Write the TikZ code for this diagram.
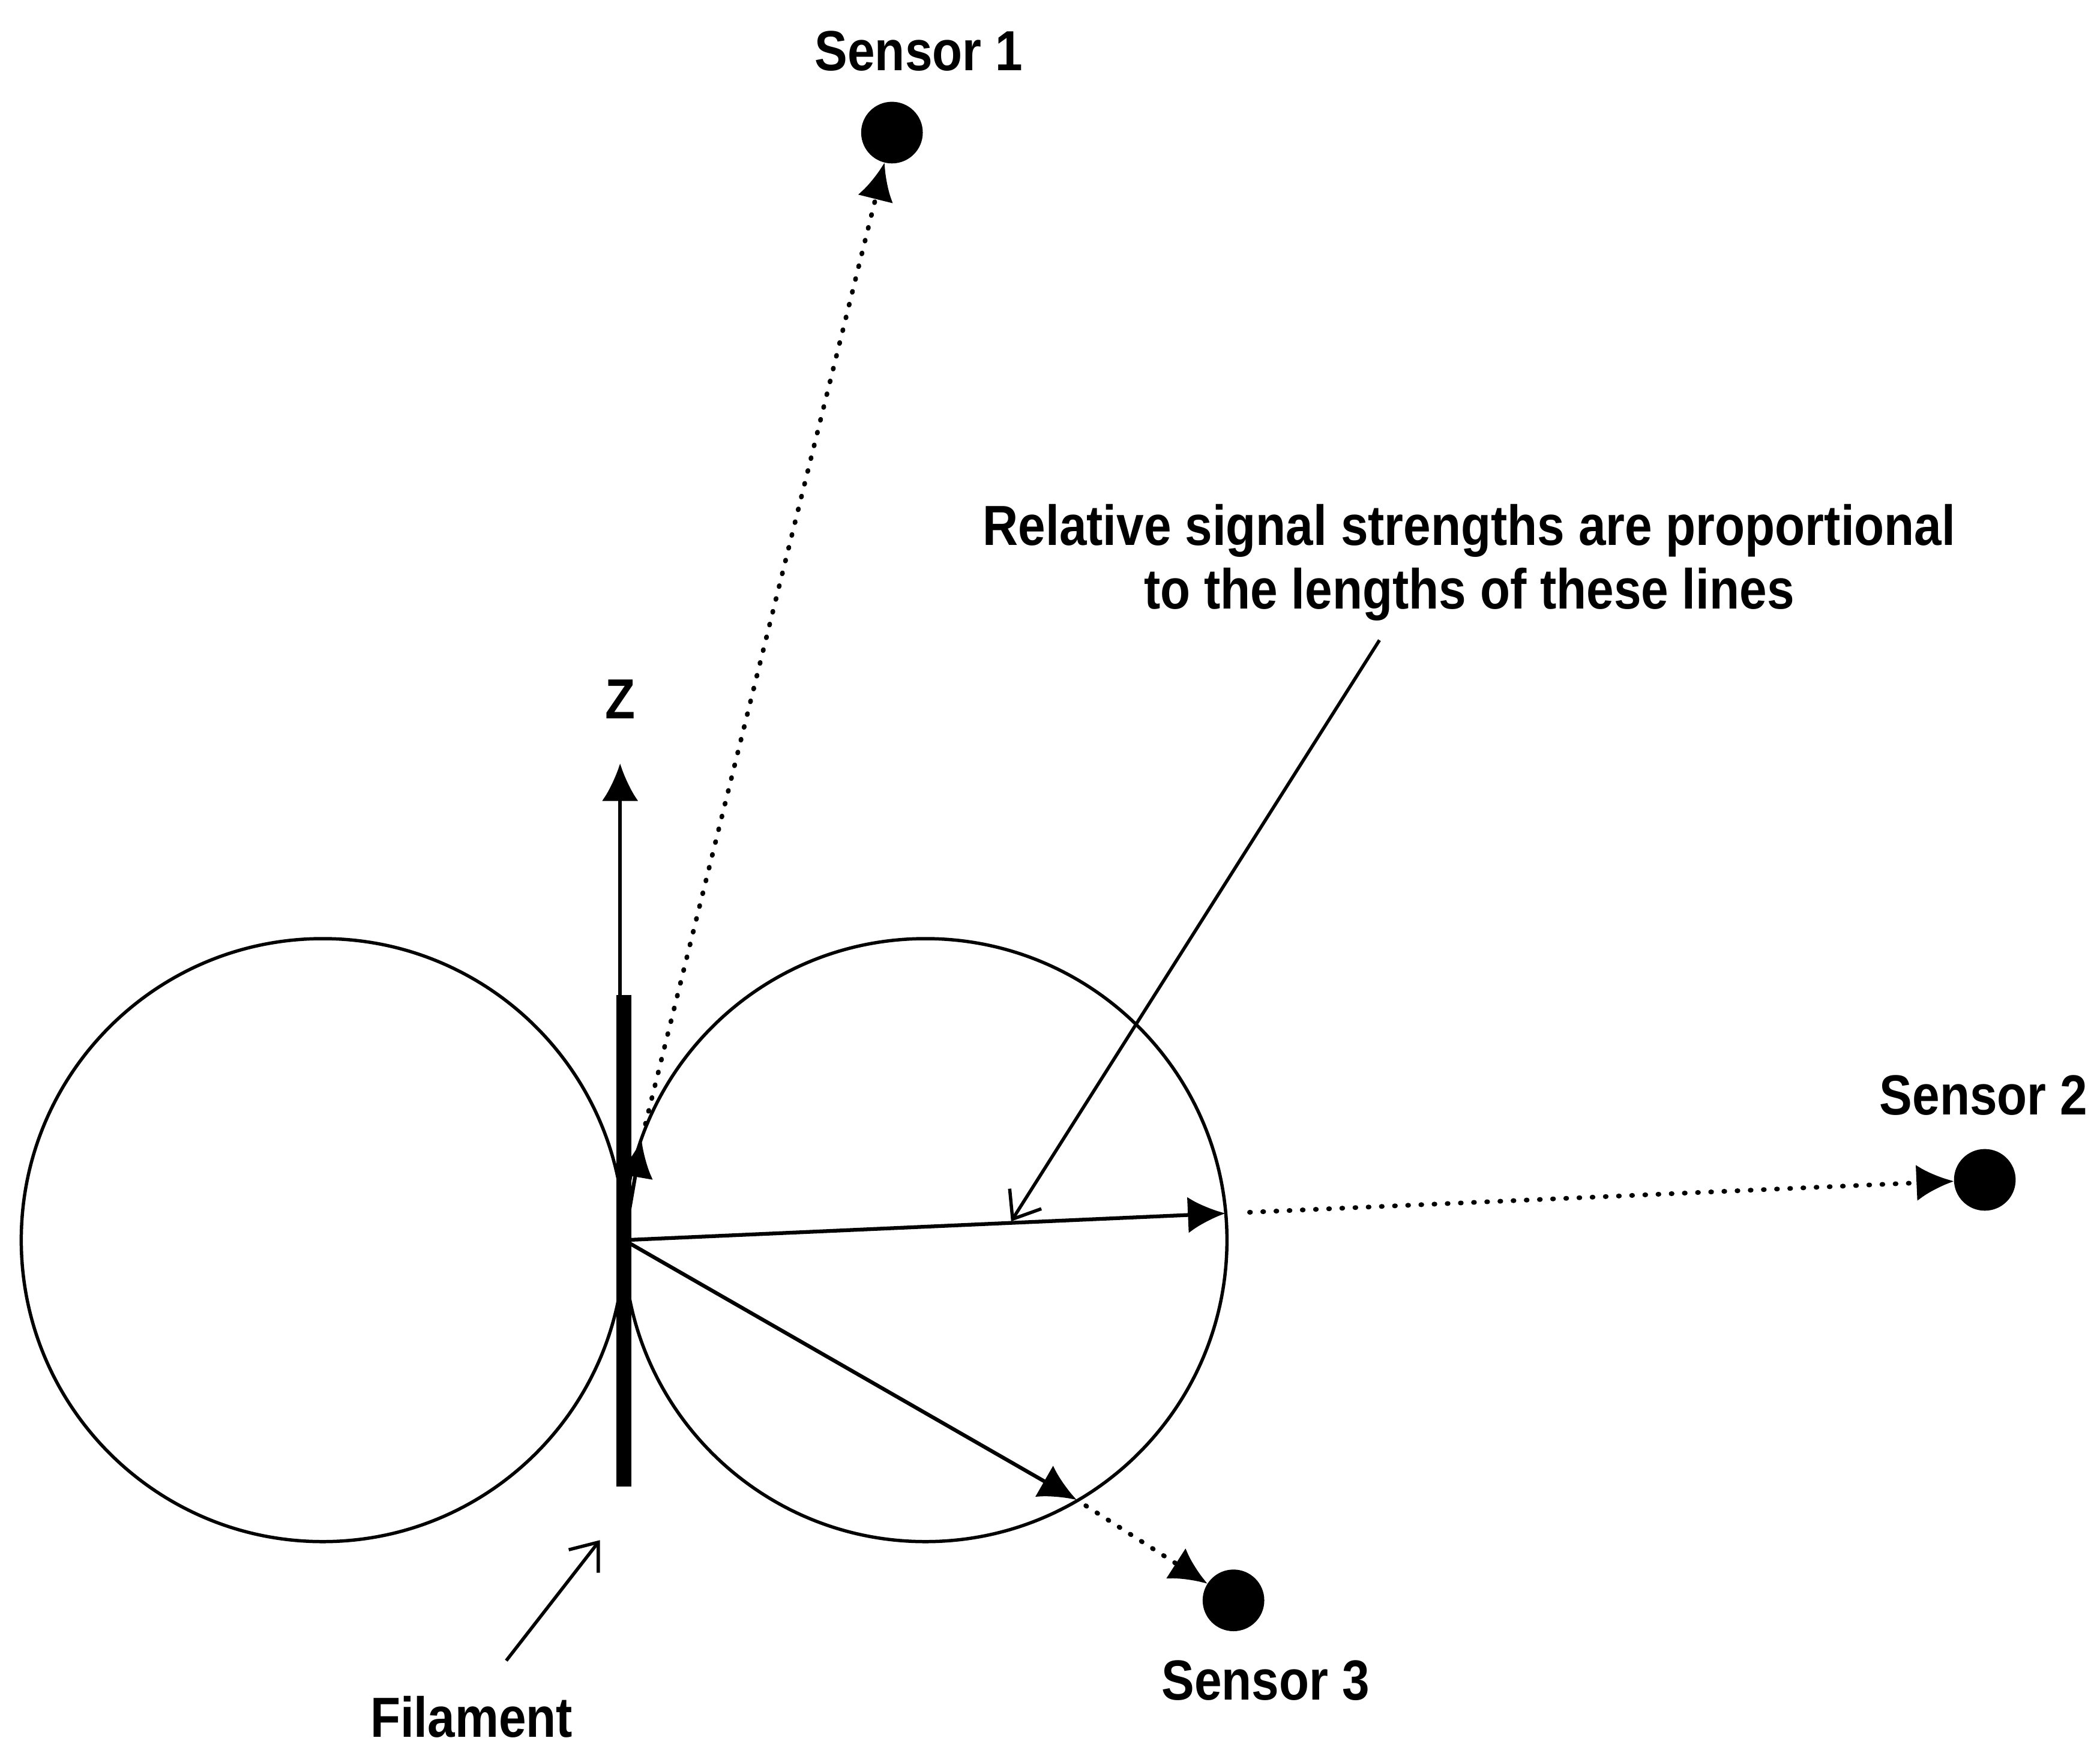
\documentclass[tikz,border=0pt]{standalone}
\usepackage{fontspec}
\setmainfont{Liberation Sans}[FakeStretch=0.87]
\usetikzlibrary{arrows.meta}

\begin{document}
\begin{tikzpicture}[x=0.01cm,y=-0.01cm,
    lobe/.style={line width=0.7pt},
    sensor/.style={circle,fill=black,inner sep=0pt,outer sep=0pt,minimum size=0.46cm},
    lbl/.style={font=\bfseries\fontsize{12}{13.6}\selectfont,inner sep=0pt},
    ray/.style={line width=0.8pt,-{Latex[length=2.8mm,width=2.7mm]}},
    farpath/.style={line width=1pt,line cap=round,dash pattern=on 0.2pt off 2.6pt,-{Latex[length=2.8mm,width=2.7mm]}},
    pointer/.style={line width=0.7pt,-{Straight Barb[length=1.8mm,width=2.8mm]}}]
    \useasboundingbox (0,0) rectangle (1568,1302);

    % radiation lobes
    \coordinate (o) at (466,926);
    \coordinate (cl) at (241,926);
    \coordinate (cr) at (691,926);
    \draw[lobe] (cl) circle[radius=2.25cm];
    \draw[lobe] (cr) circle[radius=2.25cm];

    % filament and z axis
    \coordinate (ft) at (466,743);
    \coordinate (fb) at (466,1110);
    \coordinate (zbase) at (463,743);
    \coordinate (ztip) at (463,570);
    \draw[ray,line width=0.7pt] (zbase) -- (ztip);
    \draw[line width=3.2pt] (ft) -- (fb);
    \node[lbl] (zlbl) at (463,522) {Z};

    % sensors
    \node[sensor] (s1) at (666,99) {};
    \node[sensor] (s2) at (1482,881) {};
    \node[sensor] (s3) at (921,1195) {};
    \node[lbl] (s1lbl) at (686,38) {Sensor 1};
    \node[lbl] (s2lbl) at (1481,818) {Sensor 2};
    \node[lbl] (s3lbl) at (945,1255) {Sensor 3};

    % rays to the lobe and on to the sensors
    \coordinate (p1) at (479,851);
    \coordinate (p2) at (915,906);
    \coordinate (p3) at (804,1120);
    \draw[ray] (o) -- (p1);
    \draw[ray] (o) -- (p2);
    \draw[ray] (o) -- (p3);
    \draw[farpath,shorten <=0.12cm] (p1) -- (s1);
    \draw[farpath,shorten <=0.18cm] (p2) -- (s2);
    \draw[farpath,shorten <=0.08cm] (p3) -- (s3);

    % callouts
    \node[lbl,align=center] (note) at (1097,420) {Relative signal strengths are proportional\\to the lengths of these lines};
    \node[lbl] (fillbl) at (352,1282) {Filament};
    \coordinate (notetail) at (1030,478);
    \coordinate (notehead) at (755,912);
    \draw[pointer] (notetail) -- (notehead);
    \coordinate (filtail) at (378,1240);
    \coordinate (filhead) at (448,1150);
    \draw[pointer] (filtail) -- (filhead);
\end{tikzpicture}
\end{document}
